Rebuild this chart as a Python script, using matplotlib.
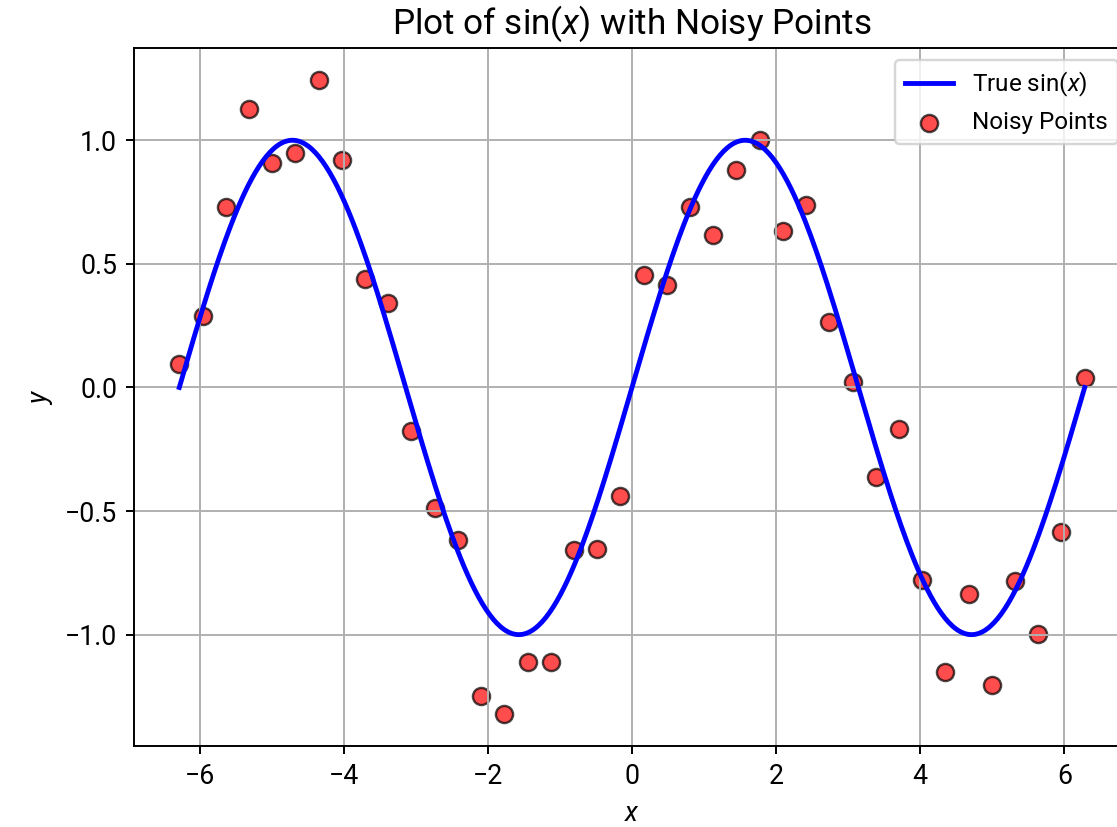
import numpy as np
import matplotlib
matplotlib.use("Agg")
import matplotlib.pyplot as plt

plt.rcParams['font.family'] = ['Roboto', 'DejaVu Sans']
plt.rcParams['mathtext.fontset'] = 'custom'
plt.rcParams['mathtext.rm'] = 'Roboto'
plt.rcParams['mathtext.it'] = 'Roboto:italic'

# noisy sample values (x = 40 evenly spaced points over [-2pi, 2pi])
x_pts = np.linspace(-2*np.pi, 2*np.pi, 40)
y_noisy = [0.094, 0.29, 0.73, 1.127, 0.91, 0.947, 1.245, 0.922, 0.44, 0.343,
           -0.176, -0.486, -0.616, -1.249, -1.322, -1.110, -1.110, -0.657, -0.653, -0.441,
           0.453, 0.416, 0.73, 0.616, 0.88, 1.0, 0.633, 0.739, 0.265, 0.024,
           -0.363, -0.167, -0.78, -1.151, -0.837, -1.204, -0.784, -0.996, -0.584, 0.037]

x = np.linspace(-2*np.pi, 2*np.pi, 500)
y = np.sin(x)

dpi = 174.5
fig = plt.figure(figsize=(1117/dpi, 827/dpi), dpi=dpi)
ax = fig.add_axes([0.12, 0.098, 0.8916, 0.844])

ax.plot(x, y, color='blue', lw=2, label=r'True $\sin(x)$')
ax.scatter(x_pts, y_noisy, color='red', alpha=0.7, edgecolors='black', s=50, label='Noisy Points')

ax.set_title(r'Plot of $\sin(x)$ with Noisy Points', fontsize=14.5)
ax.set_xlabel(r'$x$', fontsize=11)
ax.set_ylabel(r'$y$', fontsize=11)
ax.tick_params(labelsize=11)
ax.grid(True)
ax.legend(loc='upper right', fontsize=10)

fig.savefig('out.png', dpi=dpi)
